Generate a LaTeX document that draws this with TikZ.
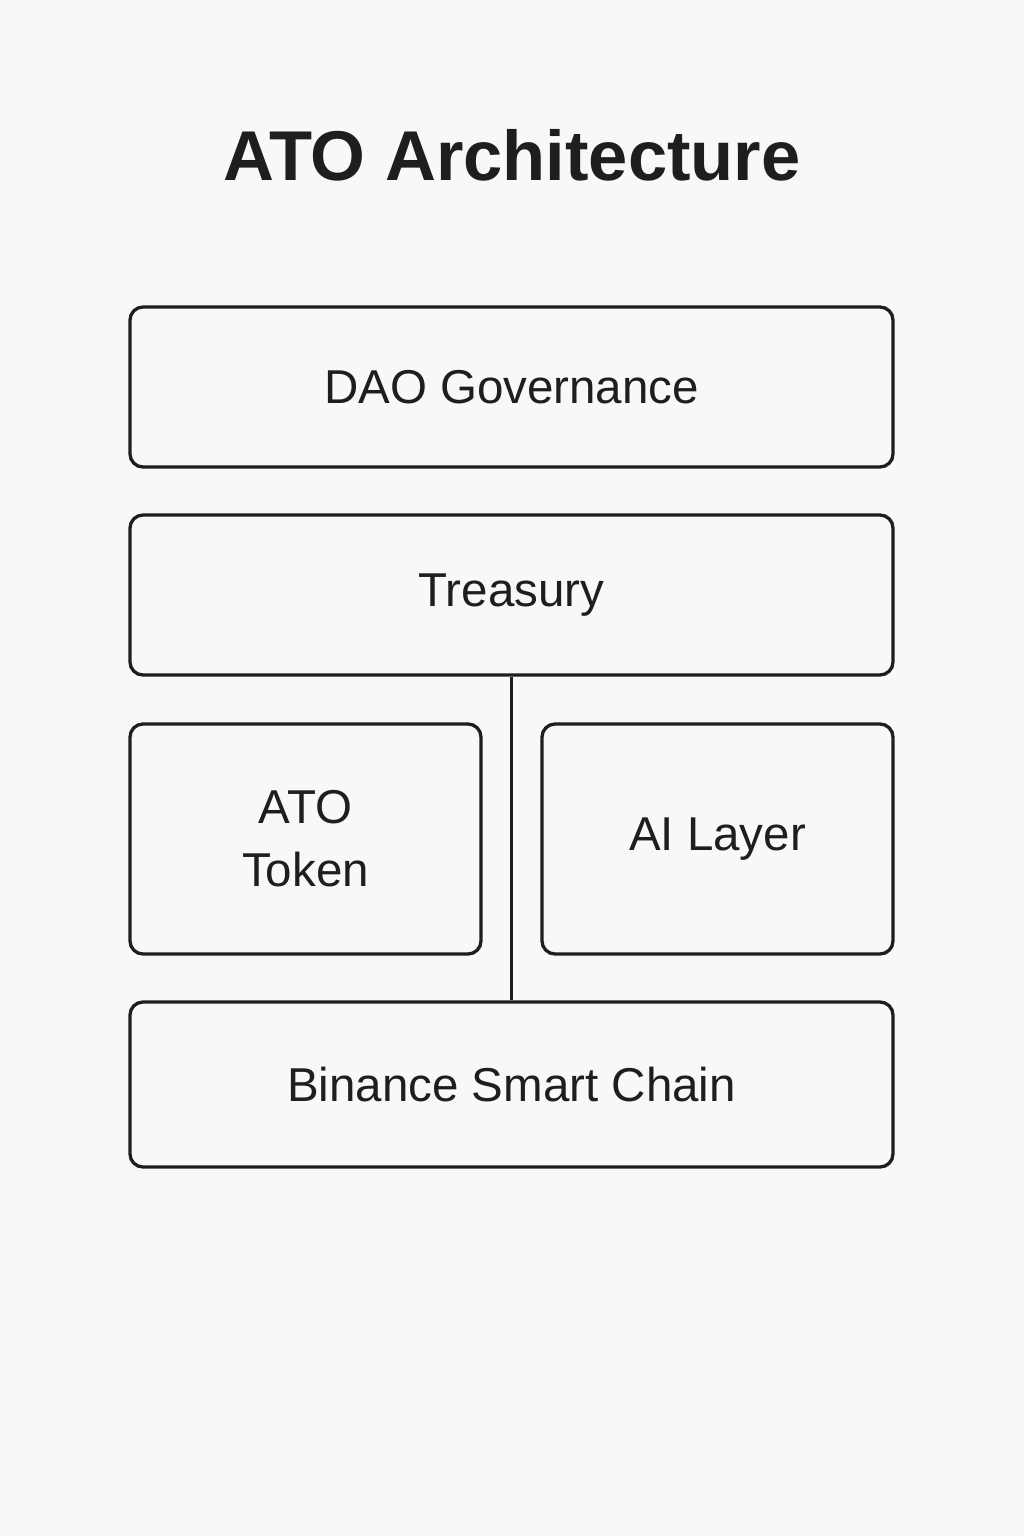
\documentclass[tikz,border=0pt]{standalone}
\usepackage{fontspec}
\setmainfont{Liberation Sans}
\usepackage{tikz}
\usetikzlibrary{shapes,arrows}
\definecolor{bg}{HTML}{F8F8F8}
\definecolor{ink}{HTML}{1E1E1E}

\begin{document}
\begin{tikzpicture}[x=1pt, y=-1pt,
      block/.style = {
        rectangle, draw=ink, line width=3.3pt, rounded corners=13pt,
        text=ink, font=\fontsize{47.5}{63}\selectfont, align=center,
        inner sep=0pt },
      wide-block/.style = { block, minimum width=763pt, minimum height=160pt },
      half-block/.style = { block, minimum width=351pt, minimum height=230pt },
      line/.style = { draw=ink, line width=2.6pt }]
    \fill[bg] (0,0) rectangle (1024,1536);
    \useasboundingbox (0,0) rectangle (1024,1536);
    \node [text=ink, font=\fontsize{70.5}{80}\selectfont\bfseries] (title) at (512, 155) {ATO Architecture};
    \node [wide-block] (dao) at (511.5, 387) {DAO Governance};
    \node [wide-block] (treasury) at (511.5, 595) {Treasury};
    \node [half-block] (token) at (305.5, 839) {ATO\\Token};
    \node [half-block] (ailayer) at (717.5, 839) {AI Layer};
    \node [wide-block, minimum height=165pt] (bsc) at (511.5, 1084.5) {Binance Smart Chain};
    % connect treasury with the chain
    \draw[line] (treasury) -- (bsc);
  \end{tikzpicture}
\end{document}
